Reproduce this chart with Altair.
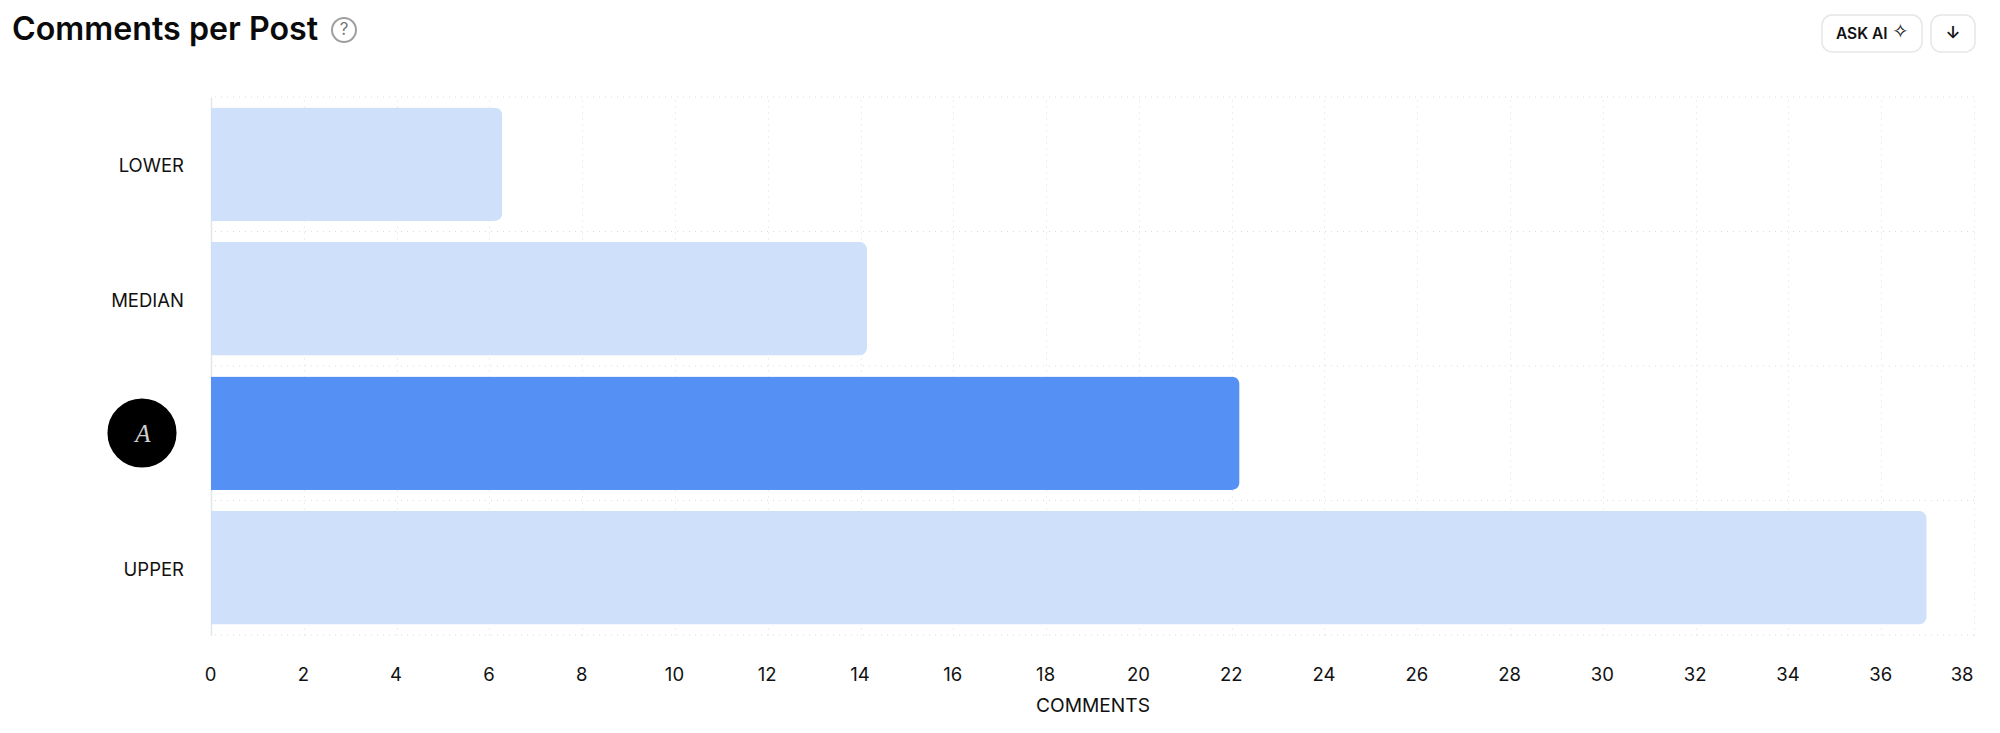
import altair as alt

categories = ["LOWER", "MEDIAN", " ", "UPPER"]
values = [6.28, 14.14, 22.17, 36.98]
colors = ["#CFE0FB", "#CFE0FB", "#5591F5", "#CFE0FB"]
band_edges = [0, 1, 2, 3, 4]
x_ticks = list(range(0, 39, 2))

FONT = "Inter"
INK = "#111111"
W, H = 1763, 538


def note(text, x, y, **kw):
    return alt.Chart(alt.Data(values=[{"t": text}])).mark_text(**kw).encode(
        x=alt.value(x), y=alt.value(y), text="t:N"
    )


def box(x, x2, y, y2):
    return alt.Chart(alt.Data(values=[{"k": 1}])).mark_rect(
        fill="white", stroke="#E6E6E6", strokeWidth=1.5, cornerRadius=10
    ).encode(x=alt.value(x), x2=alt.value(x2), y=alt.value(y), y2=alt.value(y2))


def dot(x, y, size, **kw):
    return alt.Chart(alt.Data(values=[{"k": 1}])).mark_point(shape="circle", **kw).encode(
        x=alt.value(x), y=alt.value(y), size=alt.value(size)
    )


h_grid = alt.Chart(alt.Data(values=[{"e": e} for e in band_edges])).mark_rule(
    color="#D9DCE1", strokeWidth=1, strokeDash=[1, 5]
).encode(y=alt.Y("e:Q", axis=None, scale=alt.Scale(domain=[0, 4], nice=False, reverse=True)))

bars = alt.Chart(
    alt.Data(values=[{"c": c, "v": v, "col": k} for c, v, k in zip(categories, values, colors)])
).mark_bar(cornerRadiusEnd=8).encode(
    x=alt.X(
        "v:Q",
        scale=alt.Scale(domain=[0, 38], nice=False),
        axis=alt.Axis(
            values=x_ticks,
            title="COMMENTS",
            grid=True,
            gridColor="#D9DCE1",
            gridDash=[1, 5],
            gridWidth=1,
            ticks=False,
            domain=False,
            labelFont=FONT,
            labelFontSize=18.5,
            labelColor=INK,
            labelPadding=30,
            labelOffset=-1,
            labelAlign={"condition": {"test": "datum.value == 38", "value": "right"}, "value": "center"},
            titleFont=FONT,
            titleFontSize=19.2,
            titleFontWeight=400,
            titleColor=INK,
            titlePadding=13,
        ),
    ),
    y=alt.Y(
        "c:N",
        sort=categories,
        scale=alt.Scale(paddingInner=0.155, paddingOuter=0.078),
        axis=alt.Axis(
            title=None,
            ticks=False,
            domain=True,
            domainColor="#E3E5E8",
            domainWidth=1.5,
            grid=False,
            labelFont=FONT,
            labelFontSize=18.5,
            labelColor=INK,
            labelPadding=27.5,
            labelOffset=2,
        ),
    ),
    color=alt.Color("col:N", scale=None, legend=None),
)

title = note("Comments per Post", -199, -67, font=FONT, fontSize=32.2, fontWeight=600,
             color="#0A0A0A", align="left", baseline="middle")
help_ring = dot(133, -67, 576, stroke="#777777", strokeWidth=2, fill="white", filled=False)
help_mark = note("?", 133, -67, font=FONT, fontSize=17, color="#777777", align="center", baseline="middle")
ask_box = box(1611, 1711, -82, -45)
ask_text = note("ASK AI", 1625, -63, font=FONT, fontSize=15.5, fontWeight=600, color=INK,
                align="left", baseline="middle")
ask_star = note("\u2727", 1681, -65, font="DejaVu Sans", fontSize=20, fontWeight=700, color=INK,
                align="left", baseline="middle")
arrow_box = box(1720, 1764, -82, -45)
arrow = note("\u2193", 1742, -63, font=FONT, fontSize=17, fontWeight=600, color=INK,
             align="center", baseline="middle")
avatar = dot(-69, 336, 4500, fill="#000000", filled=True, opacity=1, stroke="#000000")
avatar_mark = note("A", -68, 337, font="Liberation Serif", fontSize=25, fontStyle="italic",
                   color="#CFCFCF", align="center", baseline="middle")

chart = alt.layer(
    h_grid, bars, title, help_ring, help_mark, ask_box, ask_text, ask_star,
    arrow_box, arrow, avatar, avatar_mark,
).resolve_scale(y="independent", x="independent").properties(
    width=W,
    height=H,
    padding={"left": 203, "top": 89, "right": 18, "bottom": 98},
    autosize=alt.AutoSizeParams(type="none"),
    background="white",
).configure_view(stroke=None)

chart.save("out.html", embed_options={"renderer": "svg", "actions": False})
